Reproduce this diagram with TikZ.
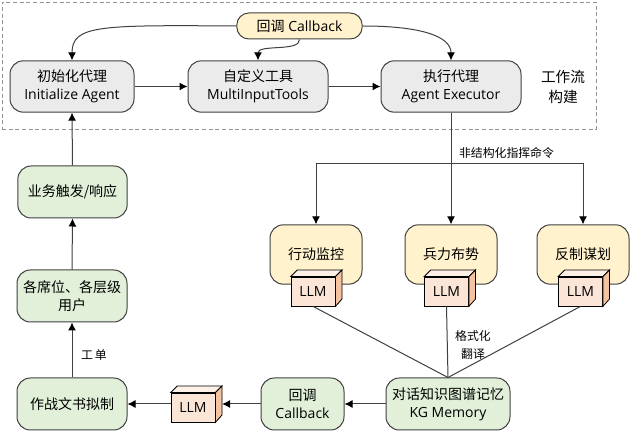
\documentclass[tikz,border=0pt]{standalone}
\usepackage{fontspec}
\setmainfont{Open Sans}
\newfontfamily\cjk{Noto Sans CJK SC}
\newcommand{\zh}[1]{{\cjk #1}}
\usetikzlibrary{arrows.meta}
\definecolor{edgec}{HTML}{404040}
\definecolor{grayf}{HTML}{EBEBEB}
\definecolor{yelf}{HTML}{FFF2CC}
\definecolor{grnf}{HTML}{E2F0D9}
\definecolor{llmf}{HTML}{FBE5D6}
\definecolor{llmt}{HTML}{FDF0E7}
\definecolor{llms}{HTML}{F6C3A0}
\tikzset{
 base/.style={draw=edgec,line width=.75pt,rounded corners=10pt,align=center,inner sep=0pt,
   font=\fontsize{10.5}{13.5}\selectfont},
 graybox/.style={base,fill=grayf,minimum height=38.5pt},
 yelbox/.style={base,fill=yelf,minimum width=69pt,minimum height=44.5pt},
 grnbox/.style={base,fill=grnf,minimum height=39pt},
 llmbox/.style={draw=black,line width=.6pt,fill=llmf,minimum width=33pt,minimum height=21.75pt,inner sep=0pt,
   font=\fontsize{10.5}{13}\selectfont},
 conn/.style={draw=edgec,line width=.75pt},
 arr/.style={conn,-{Latex[length=6pt,width=6pt,black]}},
 lbl/.style={inner sep=0pt,font=\fontsize{8.9}{13.5}\selectfont,align=center},
 captext/.style={inner sep=0pt,font=\fontsize{11}{15}\selectfont,align=center},
}
\newcommand{\cube}[1]{%
 \path[draw=black,line width=.6pt,fill=llmt] (#1.north west) -- ++(5pt,5pt) -- ++(33pt,0pt) -- ([shift={(5pt,5pt)}]#1.north east)-- (#1.north east) -- cycle;
 \path[draw=black,line width=.6pt,fill=llms] (#1.north east) -- ++(5pt,5pt) -- ++(0pt,-21.75pt) -- (#1.south east) -- cycle;
}
\begin{document}
\begin{tikzpicture}[x=.75pt,y=-.75pt]
\useasboundingbox (0,0) rectangle (632,434);
\fill[white] (0,0) rectangle (632,434);
\node[draw=gray!85,densely dashed,line width=.5pt,minimum width=445.5pt,minimum height=95.25pt,inner sep=0pt] (frame) at (299,65.5) {};
% top row
\node[graybox,minimum width=93pt] (init) at (72,86.5) {\zh{初始化代理}\\Initialize Agent};
\node[graybox,minimum width=105pt] (tool) at (258,86.5) {\zh{自定义工具}\\MultiInputTools};
\node[graybox,minimum width=105pt] (exec) at (451,86.5) {\zh{执行代理}\\Agent Executor};
\node[base,fill=yelf,rounded corners=9pt,minimum width=94pt,minimum height=19.5pt] (cb) at (299.5,26) {\zh{回调} Callback};
\node[captext] (wf) at (563,87) {\zh{工作流}\\\zh{构建}};
% left column
\node[grnbox,minimum width=82pt] (biz) at (72.5,192) {\zh{业务触发/响应}};
\node[grnbox,minimum width=82.5pt] (user) at (72,296) {\zh{各席位、各层级}\\\zh{用户}};
\node[grnbox,minimum width=82.5pt] (doc) at (72,404) {\zh{作战文书拟制}};
% bottom row
\node[grnbox,minimum width=62.25pt] (cb2) at (302.5,404) {\zh{回调}\\Callback};
\node[grnbox,minimum width=93pt] (kg) at (448,404) {\zh{对话知识图谱记忆}\\KG Memory};
% yellow
\node[yelbox] (mon) at (316,254.5) {\raisebox{2pt}{\zh{行动监控}}};
\node[yelbox] (force) at (451,254.5) {\raisebox{2pt}{\zh{兵力布势}}};
\node[yelbox] (plan) at (583,254.5) {\raisebox{2pt}{\zh{反制谋划}}};
% LLM cubes
\node[llmbox] (l1) at (313,291.5) {LLM}; \cube{l1}
\node[llmbox] (l2) at (446.5,291.5) {LLM}; \cube{l2}
\node[llmbox] (l3) at (580.5,291.5) {LLM}; \cube{l3}
\node[llmbox] (l4) at (193,407.5) {LLM}; \cube{l4}
\coordinate (l4r) at ([xshift=5pt]l4.east);
% connectors
\draw[arr] (cb.west) .. controls (100,25) and (72,25) .. (init.north);
\draw[arr] (cb.south) .. controls (300,52) and (258,44) .. (tool.north);
\draw[arr] (cb.east) .. controls (420,26) and (451,36) .. (exec.north);
\draw[arr] (init.east) -- (tool.west);
\draw[arr] (tool.east) -- (exec.west);
\draw[arr] (exec.south) -- (force.north);
\coordinate (bus) at (451,164);
\draw[arr] (bus) -- (bus -| mon.north) -- (mon.north);
\draw[arr] (bus) -- (bus -| plan.north) -- (plan.north);
\draw[conn] (l1.south) -- (kg.north);
\draw[conn] (l2.south) -- (kg.north);
\draw[conn] (l3.south) -- (kg.north);
\draw[arr] (kg.west) -- (cb2.east);
\draw[arr] (cb2.west) -- (cb2.west -| l4r);
\draw[arr] (doc.east -| l4.west) -- (doc.east);
\draw[arr] (doc.north) -- (user.south);
\draw[arr] (user.north) -- (biz.south);
\draw[arr] (biz.north) -- (init.south);
% labels
\node[lbl] (t1) at (506.5,153) {\zh{非结构化指挥命令}};
\node[lbl] (t2) at (473,345) {\zh{格式化}\\\zh{翻译}};
\node[lbl] (t3) at (94,355) {\zh{工\,单}};
\end{tikzpicture}
\end{document}
